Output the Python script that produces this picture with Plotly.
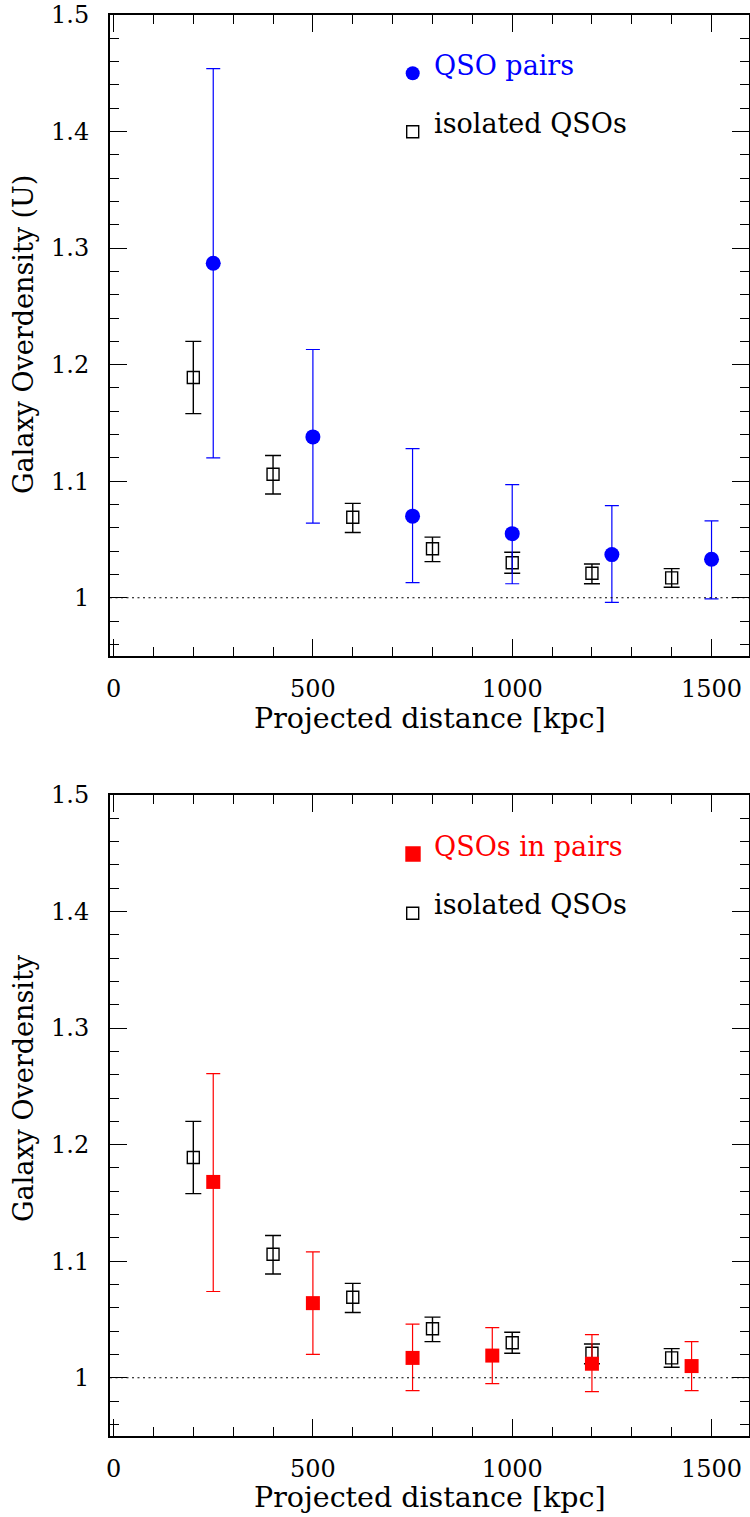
import numpy as np
import plotly.graph_objects as go

# ---- data -------------------------------------------------------------
# QSO pairs (upper panel, overdensity in U)
dist_pairs = [250, 500, 750, 1000, 1250, 1500]
od_pairs = [1.287, 1.138, 1.070, 1.055, 1.037, 1.033]
od_pairs_hi = [1.454, 1.213, 1.128, 1.097, 1.079, 1.066]
od_pairs_lo = [1.120, 1.064, 1.013, 1.012, 0.996, 0.999]

# isolated QSOs (shown in both panels)
dist_iso = [200, 400, 600, 800, 1000, 1200, 1400]
od_iso = [1.189, 1.106, 1.069, 1.042, 1.030, 1.021, 1.017]
od_iso_hi = [1.220, 1.122, 1.081, 1.052, 1.039, 1.029, 1.025]
od_iso_lo = [1.158, 1.089, 1.056, 1.031, 1.021, 1.012, 1.009]

# QSOs in pairs (lower panel)
dist_inpairs = [250, 500, 750, 950, 1200, 1450]
od_inpairs = [1.168, 1.064, 1.017, 1.019, 1.012, 1.010]
od_inpairs_hi = [1.261, 1.108, 1.046, 1.043, 1.037, 1.031]
od_inpairs_lo = [1.074, 1.020, 0.989, 0.995, 0.988, 0.989]

x_ticks = [0, 500, 1000, 1500]
y_ticks = [1.0, 1.1, 1.2, 1.3, 1.4, 1.5]

# ---- page geometry ----------------------------------------------------
W, H = 750, 1517
FONT = "DejaVu Serif"


def fx(p):
    return p / W


def fy(p):
    return 1 - p / H


def errs(v, hi, lo):
    v, hi, lo = map(np.asarray, (v, hi, lo))
    return dict(type="data", symmetric=False, array=hi - v, arrayminus=v - lo)


fig = go.Figure()


def add_points(x, y, hi, lo, color, symbol, size, xa, ya, ebw, cap, lw=0):
    e = errs(y, hi, lo)
    e.update(color=color, thickness=ebw, width=cap)
    fig.add_trace(go.Scatter(
        x=x, y=y, mode="markers", xaxis=xa, yaxis=ya, showlegend=False,
        error_y=e,
        marker=dict(symbol=symbol, size=size, color=color,
                    line=dict(width=lw, color=color)),
    ))


# upper panel
add_points(dist_iso, od_iso, od_iso_hi, od_iso_lo, "black", "square-open", 12,
           "x", "y", 1.4, 8, lw=1.4)
add_points(dist_pairs, od_pairs, od_pairs_hi, od_pairs_lo, "#0000ff", "circle", 15,
           "x", "y", 1.2, 7)
# lower panel
add_points(dist_iso, od_iso, od_iso_hi, od_iso_lo, "black", "square-open", 12,
           "x2", "y2", 1.4, 8, lw=1.4)
add_points(dist_inpairs, od_inpairs, od_inpairs_hi, od_inpairs_lo, "#ff0000", "square", 14,
           "x2", "y2", 1.2, 7)

tickfont = dict(family=FONT, size=24, color="black")
common_x = dict(
    range=[-9, 1594], tickmode="array", tickvals=x_ticks, ticktext=[str(v) for v in x_ticks],
    ticks="inside", ticklen=17, tickwidth=1.4, tickcolor="black",
    minor=dict(dtick=100, tick0=0, ticks="inside", ticklen=9, tickwidth=1.4, tickcolor="black"),
    showline=True, linecolor="black", linewidth=2, mirror="allticks",
    showgrid=False, zeroline=False, tickfont=tickfont, ticklabelstandoff=10,
    domain=[fx(110), fx(749)], automargin=False,
)
common_y = dict(
    range=[0.95, 1.5], tickmode="array", tickvals=y_ticks,
    ticktext=["1" if v == 1.0 else f"{v:.1f}" for v in y_ticks],
    ticks="inside", ticklen=17, tickwidth=1.4, tickcolor="black",
    minor=dict(dtick=0.02, tick0=0, ticks="inside", ticklen=9, tickwidth=1.4, tickcolor="black"),
    showline=True, linecolor="black", linewidth=2, mirror="allticks",
    showgrid=False, zeroline=False, tickfont=tickfont, ticklabelstandoff=14,
    automargin=False,
)

fig.update_layout(
    width=W, height=H, margin=dict(l=0, r=0, t=0, b=0, autoexpand=False),
    paper_bgcolor="white", plot_bgcolor="white",
    xaxis=dict(common_x, anchor="y"),
    yaxis=dict(common_y, anchor="x", domain=[fy(656), fy(15)]),
    xaxis2=dict(common_x, anchor="y2"),
    yaxis2=dict(common_y, anchor="x2", domain=[fy(1436), fy(795)]),
)

# reference level of unit overdensity
for xr, yr in (("x", "y"), ("x2", "y2")):
    fig.add_shape(type="line", xref=f"{xr} domain", yref=yr, x0=0, x1=1, y0=1, y1=1,
                  line=dict(color="black", width=1.2, dash="2px,3.5px"))

# axis titles
labfont = dict(family=FONT, size=27, color="black")
xlabfont = dict(family=FONT, size=28.5, color="black")
fig.add_annotation(x=fx(430), y=fy(718), xref="paper", yref="paper",
                   text="Projected distance [kpc]", showarrow=False, font=xlabfont,
                   xanchor="center", yanchor="middle")
fig.add_annotation(x=fx(430), y=fy(1497), xref="paper", yref="paper",
                   text="Projected distance [kpc]", showarrow=False, font=xlabfont,
                   xanchor="center", yanchor="middle")
fig.add_annotation(x=fx(23), y=fy(335), xref="paper", yref="paper",
                   text="Galaxy Overdensity (U)", showarrow=False, font=labfont,
                   textangle=-90, xanchor="center", yanchor="middle")
fig.add_annotation(x=fx(23), y=fy(1088), xref="paper", yref="paper",
                   text="Galaxy Overdensity", showarrow=False, font=labfont,
                   textangle=-90, xanchor="center", yanchor="middle")

# key entries drawn inside each panel
def key_text(text, ypx, color):
    fig.add_annotation(x=fx(432), y=fy(ypx), xref="paper", yref="paper", text=text,
                       showarrow=False, xanchor="left", yanchor="middle",
                       font=dict(family=FONT, size=27, color=color))


def key_box(cx, cy, s, fill, line):
    fig.add_shape(type="rect", xref="paper", yref="paper",
                  x0=fx(cx - s / 2), x1=fx(cx + s / 2), y0=fy(cy + s / 2), y1=fy(cy - s / 2),
                  fillcolor=fill, line=dict(color=line, width=1.4))


fig.add_shape(type="circle", xref="paper", yref="paper",
              x0=fx(412.7 - 7), x1=fx(412.7 + 7), y0=fy(73.3 + 7), y1=fy(73.3 - 7),
              fillcolor="#0000ff", line=dict(color="#0000ff", width=0))
key_text("QSO pairs", 66, "#0000ff")
key_box(412.7, 131.7, 12, "rgba(0,0,0,0)", "black")
key_text("isolated QSOs", 124, "black")

key_box(413, 854, 14, "#ff0000", "#ff0000")
key_text("QSOs in pairs", 846, "#ff0000")
key_box(412.7, 913.3, 12, "rgba(0,0,0,0)", "black")
key_text("isolated QSOs", 904, "black")

fig.write_html("out.html")
